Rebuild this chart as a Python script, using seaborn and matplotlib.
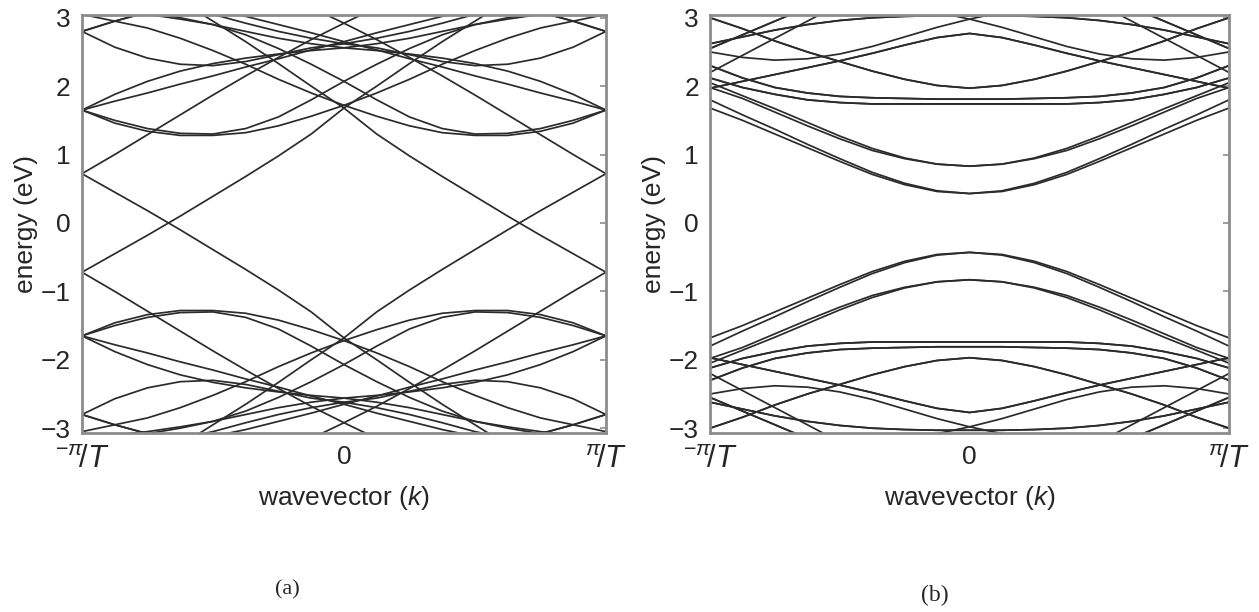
import matplotlib
matplotlib.use("Agg")
import matplotlib.pyplot as plt
import numpy as np
import pandas as pd
import seaborn as sns

# wavevector samples, in units of pi/T
K = [-1.0, -0.875, -0.75, -0.625, -0.5, -0.375, -0.25, -0.125, 0.0,
     0.125, 0.25, 0.375, 0.5, 0.625, 0.75, 0.875, 1.0]

# (a) metallic tube: bands for E > 0 (eV).
# Each one is also drawn mirrored in k and in energy.
A_LINEAR = [-0.72, -0.45, -0.18, 0.10, 0.39, 0.68, 0.98, 1.30, 1.68, 2.00, 2.33, 2.65, 2.95, 3.25, 3.50, 3.70, 3.80]
A_STEEP = [0.72, 1.00, 1.29, 1.58, 1.87, 2.15, 2.42, 2.68, 2.92, 3.15, 3.35, 3.50, 3.60, 3.65, 3.68, 3.70, 3.70]
A_BOWL1 = [1.65, 1.50, 1.38, 1.31, 1.30, 1.38, 1.55, 1.80, 2.07, 2.32, 2.55, 2.75, 2.90, 3.00, 3.08, 3.12, 3.15]
A_BOWL2 = [1.65, 1.46, 1.34, 1.28, 1.28, 1.32, 1.42, 1.56, 1.72, 1.90, 2.10, 2.32, 2.52, 2.70, 2.85, 2.95, 3.05]
A_RISE2 = [1.65, 1.78, 1.90, 2.03, 2.15, 2.28, 2.40, 2.53, 2.65, 2.78, 2.90, 3.02, 3.12, 3.20, 3.26, 3.30, 3.32]
A_RISE3 = [1.65, 1.88, 2.07, 2.22, 2.33, 2.41, 2.47, 2.52, 2.56, 2.62, 2.70, 2.80, 2.90, 2.98, 3.05, 3.10, 3.12]
A_ARC = [2.80, 2.57, 2.41, 2.32, 2.30, 2.36, 2.46, 2.56, 2.62, 2.70, 2.80, 2.92, 3.05, 3.15, 3.25, 3.30, 3.35]
A_TOP = [2.80, 2.95, 3.08, 3.18, 3.25, 3.30, 3.33, 3.35, 3.36, 3.35, 3.33, 3.30, 3.25, 3.18, 3.08, 2.95, 2.80]

# (b) semiconducting tube, same convention
B_C1 = [1.80, 1.58, 1.37, 1.15, 0.94, 0.74, 0.58, 0.47, 0.43, 0.46, 0.56, 0.71, 0.90, 1.10, 1.30, 1.50, 1.68]
B_C2 = [2.05, 1.86, 1.67, 1.47, 1.27, 1.09, 0.95, 0.86, 0.83, 0.86, 0.94, 1.06, 1.23, 1.42, 1.62, 1.82, 1.98]
B_FLAT1 = [2.12, 1.98, 1.88, 1.80, 1.76, 1.74, 1.74, 1.74, 1.74, 1.74, 1.74, 1.74, 1.76, 1.80, 1.88, 1.98, 2.12]
B_FLAT2 = [2.30, 2.12, 1.98, 1.90, 1.85, 1.83, 1.82, 1.81, 1.81, 1.81, 1.82, 1.83, 1.85, 1.90, 1.98, 2.12, 2.30]
B_LOWARC = [3.00, 2.84, 2.66, 2.50, 2.36, 2.22, 2.10, 2.01, 1.97, 2.01, 2.10, 2.22, 2.36, 2.50, 2.66, 2.84, 3.00]
B_HIGHARC = [1.97, 2.07, 2.17, 2.27, 2.37, 2.48, 2.60, 2.71, 2.77, 2.71, 2.60, 2.48, 2.37, 2.27, 2.17, 2.07, 1.97]
B_STEEP1 = [2.20, 2.45, 2.70, 2.95, 3.20, 3.40, 3.55, 3.65, 3.70, 3.72, 3.72, 3.70, 3.65, 3.60, 3.55, 3.50, 3.45]
B_STEEP2 = [2.55, 2.75, 2.95, 3.15, 3.30, 3.40, 3.45, 3.48, 3.50, 3.48, 3.45, 3.40, 3.30, 3.15, 2.95, 2.75, 2.55]
B_CROSS = [2.50, 2.42, 2.38, 2.40, 2.47, 2.58, 2.72, 2.86, 2.98, 3.08, 3.15, 3.20, 3.22, 3.22, 3.20, 3.15, 3.10]
B_UPPER = [2.62, 2.72, 2.82, 2.90, 2.96, 3.00, 3.02, 3.03, 3.03, 3.03, 3.02, 3.00, 2.96, 2.90, 2.82, 2.72, 2.62]

BANDS_A = [A_LINEAR, A_STEEP, A_BOWL1, A_BOWL2, A_RISE2, A_RISE3, A_ARC, A_TOP]
BANDS_B = [B_C1, B_C2, B_FLAT1, B_FLAT2, B_LOWARC, B_HIGHARC, B_STEEP1, B_STEEP2,
           B_CROSS, B_UPPER]

LINE = "#2b2b2b"
FRAME = "#8c8c8c"


def band_frame(bands):
    rows = []
    unit = 0
    for band in bands:
        e = np.array(band)
        for variant in (e, e[::-1], -e, -e[::-1]):
            for k, en in zip(K, variant):
                rows.append({"k": k, "energy": en, "unit": unit})
            unit += 1
    return pd.DataFrame(rows)


def draw_panel(ax, bands):
    df = band_frame(bands)
    sns.lineplot(data=df, x="k", y="energy", units="unit", estimator=None,
                 sort=False, color=LINE, lw=1.25, ax=ax, legend=False)
    ax.set_xlim(-1, 1)
    ax.set_ylim(-3.07, 3.04)
    ax.set_yticks([-3, -2, -1, 0, 1, 2, 3])
    ax.set_xticks([-1, 0, 1])
    ax.set_xticklabels([r"${}^{-\pi}\!/\mathit{T}$", "0", r"${}^{\pi}\!/\mathit{T}$"])
    ax.tick_params(axis="y", direction="in", length=4, color=FRAME, width=1.2,
                   right=True, labelsize=19, pad=8)
    ax.tick_params(axis="x", length=0, labelsize=19, pad=9)
    for lab in ax.get_xticklabels()[::2]:
        lab.set_fontsize(22)
    ax.set_xlabel(r"wavevector ($k$)", fontsize=19, labelpad=6)
    ax.set_ylabel("energy (eV)", fontsize=19, labelpad=2)
    for sp in ax.spines.values():
        sp.set_color(FRAME)
        sp.set_linewidth(2)


sns.set_theme(style="white")
plt.rcParams["font.family"] = ["Liberation Sans", "DejaVu Sans"]
plt.rcParams["mathtext.fontset"] = "custom"
plt.rcParams["mathtext.rm"] = "Liberation Sans"
plt.rcParams["mathtext.it"] = "Liberation Sans:italic"

fig = plt.figure(figsize=(12.59, 6.12), dpi=100)
ax_a = fig.add_axes([0.0651, 0.2925, 0.4162, 0.683])
ax_b = fig.add_axes([0.5640, 0.2925, 0.4122, 0.683])
draw_panel(ax_a, BANDS_A)
draw_panel(ax_b, BANDS_B)

fig.text(287 / 1259, 1 - 590 / 612, "(a)", family="Liberation Serif", fontsize=16,
         ha="center", va="center")
fig.text(935 / 1259, 1 - 595 / 612, "(b)", family="Liberation Serif", fontsize=17,
         ha="center", va="center")

fig.savefig("out.png", dpi=100)
